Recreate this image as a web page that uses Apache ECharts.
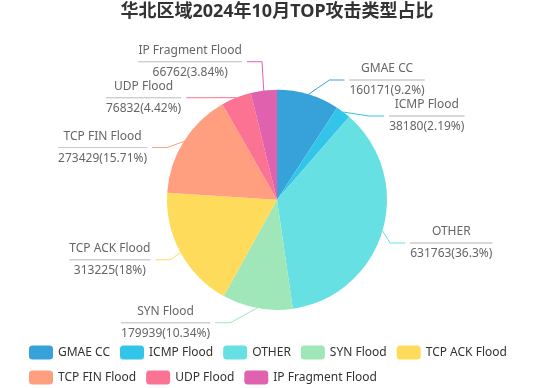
<!DOCTYPE html>
<html>
<head>
<meta charset="utf-8">
<script src="https://cdn.jsdelivr.net/npm/echarts@6/dist/echarts.min.js"></script>
<style>
html,body{margin:0;padding:0;background:#fff;}
#main{width:554px;height:388px;}
</style>
</head>
<body>
<div id="main"></div>
<script>
const titleText = '华北区域2024年10月TOP攻击类型占比';
const categories = ['GMAE CC', 'ICMP Flood', 'OTHER', 'SYN Flood', 'TCP ACK Flood', 'TCP FIN Flood', 'UDP Flood', 'IP Fragment Flood'];
const values = [160171, 38180, 631763, 179939, 313225, 273429, 76832, 66762];
const colors = ['#37a2da', '#32c5e9', '#67e0e3', '#9fe6b8', '#ffdb5c', '#ff9f7f', '#fb7293', '#e062ae'];

// label line settings (classic outer-label layout)
const LINE_LEN = 15, LINE_LEN2 = 15, LABEL_DIST = 5, LABEL_FONT = 12, LABEL_LINES = 3;

const chart = echarts.init(document.getElementById('main'));
const fontFamily = '"Noto Sans", "Noto Sans CJK SC", sans-serif';

let placements = null;

function adjustSingleSide(list, cx, cy, r, dir, viewTop, viewHeight) {
  list.sort(function (a, b) { return a.y - b.y; });
  function shiftDown(start, end, delta) {
    for (let j = start; j < end; j++) {
      if (list[j].y + delta > viewTop + viewHeight) break;
      list[j].y += delta;
      if (j > start && j + 1 < end && list[j + 1].y > list[j].y + list[j].height) {
        shiftUp(j, delta / 2);
        return;
      }
    }
    shiftUp(end - 1, delta / 2);
  }
  function shiftUp(end, delta) {
    for (let j = end; j >= 0; j--) {
      if (list[j].y - delta < viewTop) break;
      list[j].y -= delta;
      if (j > 0 && list[j].y > list[j - 1].y + list[j - 1].height) break;
    }
  }
  function changeX(sub, isDownList) {
    let lastDeltaX = isDownList ? Number.MAX_VALUE : 0;
    for (let i = 0; i < sub.length; i++) {
      const deltaY = Math.abs(sub[i].y - cy);
      const R = r + sub[i].len + sub[i].len2;
      let deltaX = deltaY < r + sub[i].len ? Math.sqrt(R * R - deltaY * deltaY) : Math.abs(sub[i].x - cx);
      if (isDownList && deltaX >= lastDeltaX) deltaX = lastDeltaX - 10;
      if (!isDownList && deltaX <= lastDeltaX) deltaX = lastDeltaX + 10;
      sub[i].x = cx + deltaX * dir;
      lastDeltaX = deltaX;
    }
  }
  let lastY = 0;
  const len = list.length;
  for (let i = 0; i < len; i++) {
    const delta = list[i].y - lastY;
    if (delta < 0) shiftDown(i, len, -delta);
    lastY = list[i].y + list[i].height;
  }
  if (viewHeight - lastY < 0) shiftUp(len - 1, lastY - viewHeight);
  const up = [], down = [];
  for (let i = 0; i < len; i++) (list[i].y >= cy ? down : up).push(list[i]);
  changeX(up, false);
  changeX(down, true);
}

function computePlacements() {
  const data = chart.getModel().getSeriesByIndex(0).getData();
  const list = [];
  let cx = 0, cy = 0, r = 0;
  data.each(function (idx) {
    const l = data.getItemLayout(idx);
    cx = l.cx; cy = l.cy; r = l.r;
    const mid = (l.startAngle + l.endAngle) / 2;
    const dx = Math.cos(mid), dy = Math.sin(mid);
    const x1 = l.r * dx + cx, y1 = l.r * dy + cy;
    const x2 = x1 + dx * LINE_LEN, y2 = y1 + dy * LINE_LEN;
    const x3 = x2 + (dx < 0 ? -1 : 1) * LINE_LEN2, y3 = y2;
    list.push({
      idx: idx,
      x: x3 + (dx < 0 ? -LABEL_DIST : LABEL_DIST),
      y: y3,
      height: LABEL_FONT * LABEL_LINES,
      len: LINE_LEN, len2: LINE_LEN2,
      linePoints: [[x1, y1], [x2, y2], [x3, y3]]
    });
  });
  const left = [], right = [];
  list.forEach(function (it) { (it.x < cx ? left : right).push(it); });
  adjustSingleSide(right, cx, cy, r, 1, 0, chart.getHeight());
  adjustSingleSide(left, cx, cy, r, -1, 0, chart.getHeight());
  const out = [];
  list.forEach(function (it) {
    const lp = it.linePoints;
    const dist = lp[1][0] - lp[2][0];
    const isLeft = it.x < cx;
    lp[2][0] = isLeft ? it.x + LABEL_DIST : it.x - LABEL_DIST;
    lp[1][0] = lp[2][0] + dist;
    lp[1][1] = lp[2][1] = it.y;
    it.align = isLeft ? 'right' : 'left';
    out[it.idx] = it;
  });
  return out;
}

const option = {
  color: colors,
  textStyle: { fontFamily: fontFamily },
  title: {
    text: titleText,
    left: 'center',
    top: -2,
    textStyle: { fontSize: 18, fontWeight: 'bold', color: '#333', fontFamily: fontFamily }
  },
  legend: {
    bottom: -2,
    left: 24,
    itemWidth: 24,
    itemHeight: 14,
    itemGap: 10,
    width: 510,
    textStyle: { fontSize: 12, color: '#333', lineHeight: 15 },
    data: categories
  },
  series: [{
    type: 'pie',
    radius: 110,
    center: ['50%', '51.5%'],
    startAngle: 90,
    data: categories.map(function (n, i) { return { name: n, value: values[i] }; }),
    label: {
      formatter: '{b|{b}}\n{hr|}\n{c|{c}({d}%)}',
      color: '#666',
      rich: {
        b: { fontSize: LABEL_FONT, color: '#666', align: 'center', lineHeight: 22 },
        hr: { borderColor: '#ccc', width: '100%', borderWidth: 1, height: 0 },
        c: { fontSize: LABEL_FONT, color: '#666', align: 'center', lineHeight: 22 }
      }
    },
    labelLine: { length: LINE_LEN, length2: LINE_LEN2 },
    labelLayout: function (params) {
      if (!placements) return {};
      const p = placements[params.dataIndex];
      return { x: p.x, y: p.y, align: p.align, verticalAlign: 'middle', labelLinePoints: p.linePoints };
    }
  }]
};

chart.setOption(option);
placements = computePlacements();
chart.setOption(option, true);
</script>
</body>
</html>
